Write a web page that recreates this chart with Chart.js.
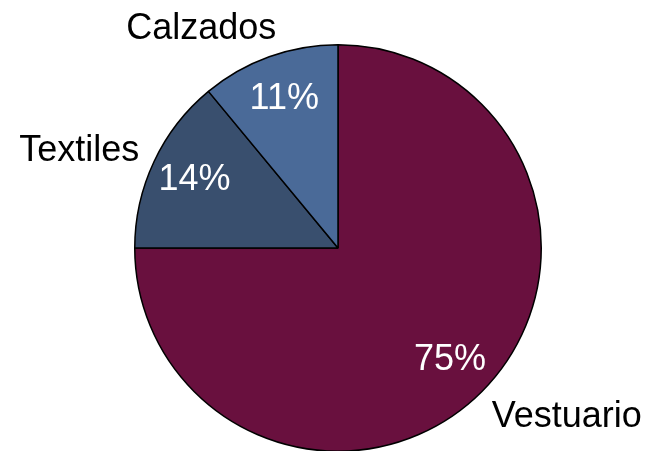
<!DOCTYPE html>
<html>
<head>
<meta charset="utf-8">
<script src="https://cdn.jsdelivr.net/npm/chart.js@4/dist/chart.umd.min.js"></script>
<style>
  html, body { margin: 0; padding: 0; background: #fff; overflow: hidden; }
  #wrap { width: 649px; height: 451px; overflow: hidden; }
</style>
</head>
<body>
<div id="wrap"><canvas id="pieChart" width="649" height="460"></canvas></div>
<script>
// Chart data
const categories = ['Vestuario', 'Textiles', 'Calzados'];
const shares = [75, 14, 11];
const sliceColors = ['#69103e', '#394f6e', '#4a6a98'];

// Outer label placement: angle (deg, canvas coords) and distance as a fraction of radius
const outerLabelAngle = [36.5, 200.6, 238];
const outerLabelDist = [1.40, 1.36, 1.27];

const labelFont = '36px "Liberation Sans", Arial, sans-serif';

const pieLabels = {
    id: 'pieLabels',
    afterDatasetsDraw(chart) {
        const ctx = chart.ctx;
        const meta = chart.getDatasetMeta(0);
        ctx.save();
        ctx.font = labelFont;
        ctx.textAlign = 'center';
        ctx.textBaseline = 'middle';
        meta.data.forEach((arc, i) => {
            const mid = (arc.startAngle + arc.endAngle) / 2;
            const r = arc.outerRadius;
            // percentage inside the slice
            ctx.fillStyle = '#ffffff';
            ctx.fillText(shares[i] + '%', arc.x + Math.cos(mid) * r * 0.78, arc.y + Math.sin(mid) * r * 0.78);
            // category name outside
            const a = outerLabelAngle[i] * Math.PI / 180;
            ctx.fillStyle = '#000000';
            ctx.fillText(categories[i], arc.x + Math.cos(a) * r * outerLabelDist[i], arc.y + Math.sin(a) * r * outerLabelDist[i]);
        });
        ctx.restore();
    }
};

new Chart(document.getElementById('pieChart').getContext('2d'), {
    type: 'pie',
    data: {
        labels: categories,
        datasets: [{
            data: shares,
            backgroundColor: sliceColors,
            borderColor: '#000000',
            borderWidth: 1.5
        }]
    },
    options: {
        responsive: false,
        animation: false,
        layout: { padding: { left: 134, right: 107, top: 44, bottom: 8 } },
        plugins: {
            legend: { display: false },
            tooltip: { enabled: false }
        }
    },
    plugins: [pieLabels]
});
</script>
</body>
</html>
